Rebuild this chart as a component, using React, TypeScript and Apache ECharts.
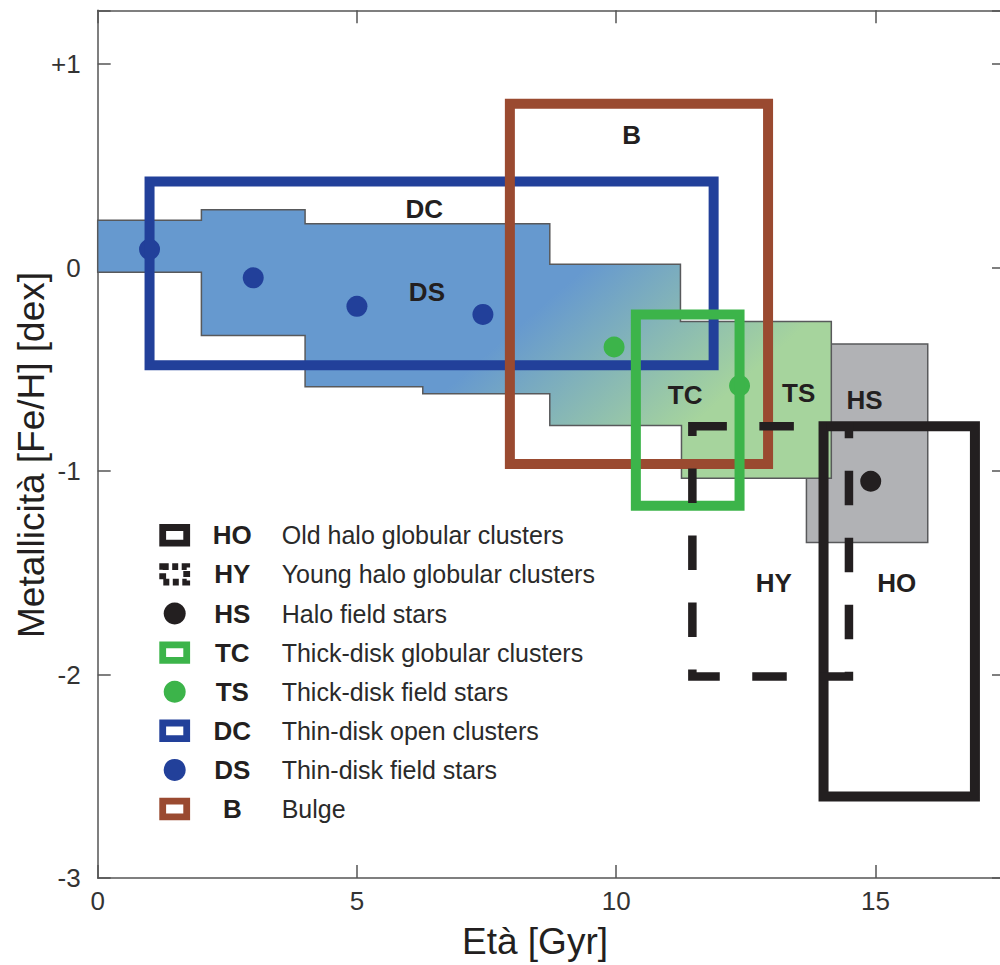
import React, { useEffect, useRef } from 'react';
import * as echarts from 'echarts';

const FONT = "'Liberation Sans', Arial, Helvetica, sans-serif";

// Stepped region: thin-disk field stars (DS) blending into thick-disk field stars (TS)
const diskRegionAge = [0, 2, 2, 4, 4, 8.72, 8.72, 11.24, 11.24, 14.15, 14.15, 11.26, 11.26, 8.72, 8.72, 6.27, 6.27, 4, 4, 2, 2, 0];
const diskRegionFeH = [0.233, 0.233, 0.285, 0.285, 0.216, 0.216, 0.017, 0.017, -0.265, -0.265, -1.035, -1.035, -0.776, -0.776, -0.62, -0.62, -0.585, -0.585, -0.334, -0.334, -0.023, -0.023];

// Halo field stars region (HS) [ageMin, feHMin, ageMax, feHMax]
const haloStarsRegion = [13.67, -1.351, 16.01, -0.375];

// Cluster boxes
const boxNames = ['DC', 'B', 'TC', 'HO', 'HY'];
const boxAgeMin = [1, 7.95, 10.38, 14, 11.47];
const boxAgeMax = [11.88, 12.93, 12.38, 16.92, 14.49];
const boxFeHMin = [-0.48, -0.965, -1.17, -2.6, -2.01];
const boxFeHMax = [0.423, 0.806, -0.23, -0.78, -0.78];

// Field star points
const dsAge = [1, 3, 5, 7.43];
const dsFeH = [0.09, -0.05, -0.19, -0.23];
const tsAge = [9.96, 12.38];
const tsFeH = [-0.39, -0.58];
const hsAge = [14.91];
const hsFeH = [-1.05];

// In-plot labels
const labelNames = ['DC', 'DS', 'B', 'TC', 'TS', 'HS', 'HY', 'HO'];
const labelAge = [6.3, 6.35, 10.3, 11.33, 13.52, 14.79, 13.04, 15.41];
const labelFeH = [0.29, -0.12, 0.65, -0.625, -0.615, -0.65, -1.55, -1.55];

// Legend
const legendCodes = ['HO', 'HY', 'HS', 'TC', 'TS', 'DC', 'DS', 'B'];
const legendTexts = [
  'Old halo globular clusters',
  'Young halo globular clusters',
  'Halo field stars',
  'Thick-disk globular clusters',
  'Thick-disk field stars',
  'Thin-disk open clusters',
  'Thin-disk field stars',
  'Bulge',
];

const xTickValues = [0, 5, 10, 15];
const yTickLabels: Record<string, string> = { '1': '+1', '0': '0', '-1': '-1', '-2': '-2', '-3': '-3' };

const BLUE = '#22409a';
const GREEN = '#3cb44a';
const BROWN = '#9a4a30';
const BLACK = '#231f20';
const colorOf: Record<string, string> = {
  DC: BLUE, DS: BLUE, B: BROWN, TC: GREEN, TS: GREEN, HO: BLACK, HY: BLACK, HS: BLACK,
};
const legendKind: Record<string, string> = {
  HO: 'box', HY: 'dash', HS: 'dot', TC: 'box', TS: 'dot', DC: 'box', DS: 'dot', B: 'box',
};

const AXIS_COLOR = '#555';

export default function App() {
  const ref = useRef<HTMLDivElement>(null);

  useEffect(() => {
    if (!ref.current) return;
    const chart = echarts.init(ref.current, undefined, { renderer: 'svg' });

    const legendGraphics: any[] = [];
    legendCodes.forEach((code, i) => {
      const y = 535.3 + i * 39.1;
      const kind = legendKind[code];
      const color = colorOf[code];
      if (kind === 'dot') {
        legendGraphics.push({
          type: 'circle',
          shape: { cx: 174.7, cy: y, r: 11 },
          style: { fill: color },
        });
      } else {
        legendGraphics.push({
          type: 'rect',
          shape: { x: 162.7, y: y - 7.8, width: 24, height: 15.6 },
          style: {
            fill: '#fff',
            stroke: color,
            lineWidth: 6.8,
            lineDash: kind === 'dash' ? [6, 3.5] : null,
          },
        });
      }
      legendGraphics.push({
        type: 'text',
        x: 232.3,
        y,
        style: {
          text: code,
          fontFamily: FONT,
          fontWeight: 'bold',
          fontSize: 26,
          fill: BLACK,
          align: 'center',
          verticalAlign: 'middle',
        },
      });
      legendGraphics.push({
        type: 'text',
        x: 281.7,
        y,
        style: {
          text: legendTexts[i],
          fontFamily: FONT,
          fontSize: 25,
          fill: '#2a2a2a',
          align: 'left',
          verticalAlign: 'middle',
        },
      });
    });

    const axisLine = { show: true, onZero: false, lineStyle: { color: AXIS_COLOR, width: 1.5 } };
    const axisTick = { show: true, inside: true, length: 13, lineStyle: { color: AXIS_COLOR, width: 1.5 } };

    const option: any = {
      animation: false,
      backgroundColor: '#ffffff',
      grid: { left: 97.7, top: 10.3, right: 5, bottom: 87, containLabel: false },
      xAxis: [
        {
          type: 'value', min: 0, max: 17.5, interval: 5, position: 'bottom',
          axisLine, axisTick,
          axisLabel: {
            fontSize: 26, fontFamily: FONT, color: '#333', margin: 10,
            formatter: (v: number) => (xTickValues.includes(v) ? String(v) : ''),
          },
          splitLine: { show: false },
        },
        {
          type: 'value', min: 0, max: 17.5, interval: 5, position: 'top',
          axisLine, axisTick, axisLabel: { show: false }, splitLine: { show: false },
        },
      ],
      yAxis: [
        {
          type: 'value', min: -3, max: 1.265, interval: 1, position: 'left',
          axisLine, axisTick,
          axisLabel: {
            fontSize: 26, fontFamily: FONT, color: '#333', margin: 17,
            formatter: (v: number) => yTickLabels[String(v)] ?? '',
          },
          splitLine: { show: false },
        },
        {
          type: 'value', min: -3, max: 1.265, interval: 1, position: 'right',
          axisLine, axisTick, axisLabel: { show: false }, splitLine: { show: false },
        },
      ],
      series: [
        {
          name: 'HS region',
          type: 'custom',
          z: 1,
          data: [haloStarsRegion],
          renderItem: (params: any, api: any) => {
            const p1 = api.coord([api.value(0), api.value(3)]);
            const p2 = api.coord([api.value(2), api.value(1)]);
            return {
              type: 'rect',
              shape: { x: p1[0], y: p1[1], width: p2[0] - p1[0], height: p2[1] - p1[1] },
              style: { fill: '#b1b2b5', stroke: '#58595b', lineWidth: 1.5 },
            };
          },
        },
        {
          name: 'DS/TS region',
          type: 'custom',
          z: 2,
          data: [[0, 0]],
          renderItem: (params: any, api: any) => {
            const pts = diskRegionAge.map((a, i) => api.coord([a, diskRegionFeH[i]]));
            const g0 = api.coord([9.4, 0.0]);
            const g1 = api.coord([11.8, -0.7]);
            return {
              type: 'polygon',
              shape: { points: pts },
              style: {
                fill: new echarts.graphic.LinearGradient(
                  g0[0], g0[1], g1[0], g1[1],
                  [
                    { offset: 0, color: '#6699cf' },
                    { offset: 1, color: '#a6d49d' },
                  ],
                  true
                ),
                stroke: '#58595b',
                lineWidth: 1.5,
              },
            };
          },
        },
        {
          name: 'DS',
          type: 'scatter',
          z: 3,
          symbolSize: 21,
          itemStyle: { color: BLUE, opacity: 1 },
          data: dsAge.map((a, i) => [a, dsFeH[i]]),
        },
        {
          name: 'TS',
          type: 'scatter',
          z: 3,
          symbolSize: 21,
          itemStyle: { color: GREEN, opacity: 1 },
          data: tsAge.map((a, i) => [a, tsFeH[i]]),
        },
        {
          name: 'HS',
          type: 'scatter',
          z: 3,
          symbolSize: 21,
          itemStyle: { color: BLACK, opacity: 1 },
          data: hsAge.map((a, i) => [a, hsFeH[i]]),
        },
        {
          name: 'Boxes',
          type: 'custom',
          z: 4,
          data: boxNames.map((n, i) => [boxAgeMin[i], boxFeHMin[i], boxAgeMax[i], boxFeHMax[i]]),
          renderItem: (params: any, api: any) => {
            const name = boxNames[params.dataIndex];
            const p1 = api.coord([api.value(0), api.value(3)]);
            const p2 = api.coord([api.value(2), api.value(1)]);
            const dashed = name === 'HY';
            return {
              type: 'rect',
              shape: { x: p1[0], y: p1[1], width: p2[0] - p1[0], height: p2[1] - p1[1] },
              style: {
                fill: 'none',
                stroke: colorOf[name],
                lineWidth: dashed ? 8.5 : 10,
                lineDash: dashed ? [34.5, 32.5] : null,
                lineJoin: 'miter',
              },
            };
          },
        },
        {
          name: 'Labels',
          type: 'custom',
          z: 5,
          data: labelNames.map((n, i) => [labelAge[i], labelFeH[i]]),
          renderItem: (params: any, api: any) => {
            const p = api.coord([api.value(0), api.value(1)]);
            return {
              type: 'text',
              x: p[0],
              y: p[1],
              style: {
                text: labelNames[params.dataIndex],
                fontFamily: FONT,
                fontWeight: 'bold',
                fontSize: 26,
                fill: BLACK,
                align: 'center',
                verticalAlign: 'middle',
              },
            };
          },
        },
      ],
      graphic: [
        ...legendGraphics,
        {
          type: 'text',
          x: 535,
          y: 941,
          style: {
            text: 'Età [Gyr]',
            fontFamily: FONT,
            fontSize: 37,
            fill: BLACK,
            align: 'center',
            verticalAlign: 'middle',
          },
        },
        {
          type: 'text',
          x: 31,
          y: 455,
          rotation: Math.PI / 2,
          style: {
            text: 'Metallicità [Fe/H] [dex]',
            fontFamily: FONT,
            fontSize: 37,
            fill: BLACK,
            align: 'center',
            verticalAlign: 'middle',
          },
        },
      ],
    };

    chart.setOption(option);
    return () => chart.dispose();
  }, []);

  return (
    <div
      style={{
        position: 'absolute', left: 0, top: 0, width: 1000, height: 965,
        overflow: 'hidden', background: '#fff',
      }}
    >
      <div ref={ref} style={{ width: 1010, height: 965 }} />
    </div>
  );
}
